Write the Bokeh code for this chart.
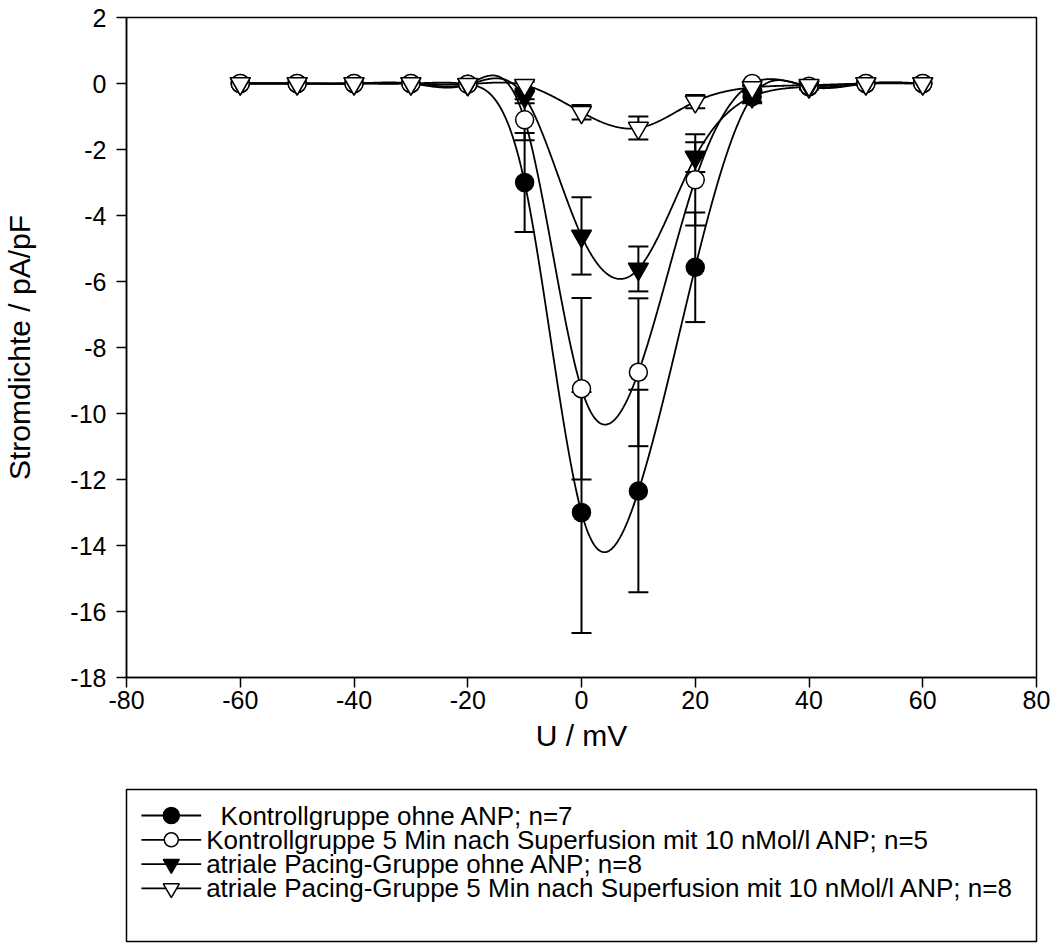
import numpy as np
from bokeh.plotting import figure
from bokeh.layouts import column
from bokeh.models import (Range1d, FixedTicker, ColumnDataSource, Whisker, TeeHead,
                          CustomJSTickFormatter)
from bokeh.core.properties import value
from bokeh.embed import file_html
from bokeh.resources import INLINE

# ---------------- data ----------------
voltage = [-60, -50, -40, -30, -20, -10, 0, 10, 20, 30, 40, 50, 60]

kontroll = [0, 0, 0, 0, -0.02, -3.0, -13.0, -12.35, -5.57, -0.4, -0.1, 0, 0]
kontroll_err = [0, 0, 0, 0, 0.02, 1.5, 3.65, 3.07, 1.66, 0.15, 0.05, 0, 0]

kontroll_anp = [0, 0, 0, 0, -0.02, -1.1, -9.25, -8.75, -2.92, 0.0, -0.08, 0, 0]
kontroll_anp_err = [0, 0, 0, 0, 0.02, 0.62, 2.75, 2.24, 1.38, 0.05, 0.05, 0, 0]

pacing = [0, 0, 0, 0, -0.03, -0.4, -4.62, -5.62, -2.23, -0.4, -0.1, 0, 0]
pacing_err = [0, 0, 0, 0, 0.02, 0.2, 1.17, 0.68, 0.45, 0.2, 0.08, 0, 0]

pacing_anp = [0, 0, 0, 0, -0.02, -0.05, -0.87, -1.35, -0.55, -0.12, -0.05, 0, 0]
pacing_anp_err = [0, 0, 0, 0, 0.02, 0.1, 0.22, 0.35, 0.2, 0.05, 0.03, 0, 0]

labels = [
    "\u00a0\u00a0Kontrollgruppe ohne ANP; n=7",
    "Kontrollgruppe 5 Min nach Superfusion mit 10 nMol/l ANP; n=5",
    "atriale Pacing-Gruppe ohne ANP; n=8",
    "atriale Pacing-Gruppe 5 Min nach Superfusion mit 10 nMol/l ANP; n=8",
]

x_ticks = [-80, -60, -40, -20, 0, 20, 40, 60, 80]
y_ticks = [-18, -16, -14, -12, -10, -8, -6, -4, -2, 0, 2]

FONT = "Liberation Sans"


def natural_spline(x, y, n=800):
    x = np.asarray(x, float)
    y = np.asarray(y, float)
    m = len(x)
    h = np.diff(x)
    A = np.zeros((m, m))
    b = np.zeros(m)
    A[0, 0] = A[-1, -1] = 1
    for i in range(1, m - 1):
        A[i, i - 1] = h[i - 1]
        A[i, i] = 2 * (h[i - 1] + h[i])
        A[i, i + 1] = h[i]
        b[i] = 3 * ((y[i + 1] - y[i]) / h[i] - (y[i] - y[i - 1]) / h[i - 1])
    c = np.linalg.solve(A, b)
    bb = (y[1:] - y[:-1]) / h - h * (2 * c[:-1] + c[1:]) / 3
    d = (c[1:] - c[:-1]) / (3 * h)
    xs = np.linspace(x[0], x[-1], n)
    idx = np.clip(np.searchsorted(x, xs, side="right") - 1, 0, m - 2)
    dx = xs - x[idx]
    ys = y[idx] + bb[idx] * dx + c[idx] * dx ** 2 + d[idx] * dx ** 3
    return xs, ys


# (label, values, errors, marker, fill, plot size, legend size)
series = [
    (labels[0], kontroll, kontroll_err, "circle", "black", 18, 16),
    (labels[1], kontroll_anp, kontroll_anp_err, "circle", "white", 18, 14),
    (labels[2], pacing, pacing_err, "inverted_triangle", "black", 20, 16),
    (labels[3], pacing_anp, pacing_anp_err, "inverted_triangle", "white", 20, 16),
]

# ---------------- main plot ----------------
p = figure(width=1050, height=760, x_range=Range1d(-80, 80), y_range=Range1d(-18, 2),
           output_backend="svg", toolbar_location=None,
           min_border_left=125, min_border_right=14, min_border_top=17, min_border_bottom=83)
p.grid.visible = False
p.outline_line_color = "black"
p.outline_line_width = 1.5
p.background_fill_color = "white"
p.border_fill_color = "white"

fmt = CustomJSTickFormatter(code="return tick.toFixed(0);")
p.xaxis.ticker = FixedTicker(ticks=x_ticks)
p.yaxis.ticker = FixedTicker(ticks=y_ticks)
p.xaxis.formatter = fmt
p.yaxis.formatter = fmt
p.xaxis.axis_label = "U / mV"
p.yaxis.axis_label = "Stromdichte / pA/pF"
for ax in (p.xaxis, p.yaxis):
    ax.major_tick_in = 0
    ax.major_tick_out = 10
    ax.minor_tick_in = 0
    ax.minor_tick_out = 0
    ax.axis_line_width = 1.5
    ax.major_tick_line_width = 1.5
    ax.axis_line_color = "black"
    ax.major_tick_line_color = "black"
    ax.major_label_text_font = FONT
    ax.major_label_text_font_size = "25px"
    ax.major_label_text_color = "black"
    ax.axis_label_text_font = FONT
    ax.axis_label_text_font_size = "30px"
    ax.axis_label_text_font_style = "normal"
    ax.axis_label_text_color = "black"
p.xaxis.major_label_standoff = 3
p.yaxis.major_label_standoff = 10
p.xaxis.axis_label_standoff = 7
p.yaxis.axis_label_standoff = 31

# curves
for lab, vals, errs, marker, fill, size, lsize in series:
    xs, ys = natural_spline(voltage, vals)
    p.line(xs, ys, line_color="black", line_width=1.8)

# error bars
for lab, vals, errs, marker, fill, size, lsize in series:
    xv = [x for x, e in zip(voltage, errs) if e > 0.04]
    up = [v + e for v, e in zip(vals, errs) if e > 0.04]
    lo = [v - e for v, e in zip(vals, errs) if e > 0.04]
    src = ColumnDataSource(dict(x=xv, upper=up, lower=lo))
    w = Whisker(source=src, base="x", upper="upper", lower="lower",
                line_color="black", line_width=2,
                upper_head=TeeHead(size=20, line_width=2, line_color="black"),
                lower_head=TeeHead(size=20, line_width=2, line_color="black"))
    p.add_layout(w)

# markers
for lab, vals, errs, marker, fill, size, lsize in series:
    p.scatter(voltage, vals, marker=marker, size=size, fill_color=fill,
              line_color="black", line_width=1.5)

# ---------------- legend panel (pixel coordinates inside the box) ----------------
BOX_W, BOX_H = 914, 152
lg = figure(width=1050, height=186, x_range=Range1d(0, BOX_W), y_range=Range1d(BOX_H, 0),
            output_backend="svg", toolbar_location=None,
            x_axis_type=None, y_axis_type=None,
            min_border_left=123, min_border_right=13, min_border_top=29, min_border_bottom=5)
lg.grid.visible = False
lg.outline_line_color = "black"
lg.outline_line_width = 1.5
lg.border_fill_color = "white"

ROW0, PITCH = 26, 24.3
GL, GR, GM, TX = 15, 75, 45, 80
for i, (lab, vals, errs, marker, fill, size, lsize) in enumerate(series):
    ry = ROW0 + i * PITCH
    lg.line([GL, GR], [ry, ry], line_color="black", line_width=1.8)
    lg.scatter([GM], [ry], marker=marker, size=lsize, fill_color=fill,
               line_color="black", line_width=1.5)
    lg.text([TX], [ry], text=[lab], text_font=value(FONT), text_font_size="26px",
            text_baseline="middle", text_align="left", text_color="black")

layout = column(p, lg, spacing=0)
open("out.html", "w").write(file_html(layout, INLINE))
